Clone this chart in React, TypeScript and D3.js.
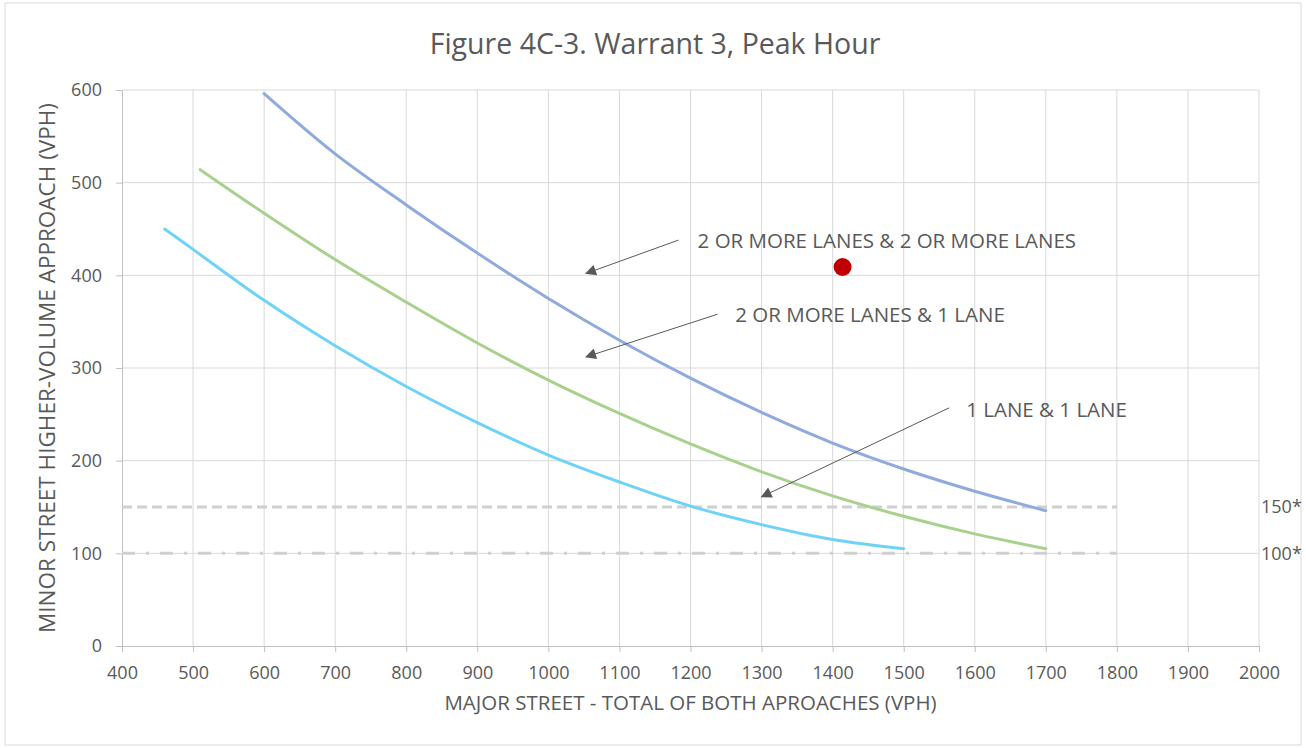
import React, { useEffect, useRef } from 'react';
import * as d3 from 'd3';

// curve readings (major street vph, minor street vph)
const twoAndTwo: Array<[number, number]> = [
  [600, 596], [700, 531], [800, 476], [900, 424], [1000, 375], [1100, 330],
  [1200, 289], [1300, 252], [1400, 219], [1500, 191], [1600, 167], [1700, 146],
];
const twoAndOne: Array<[number, number]> = [
  [510, 514], [600, 467], [700, 417], [800, 371], [900, 327], [1000, 287],
  [1100, 251], [1200, 218], [1300, 188], [1400, 162], [1500, 140], [1600, 121], [1700, 105],
];
const oneAndOne: Array<[number, number]> = [
  [460, 450], [500, 428], [600, 373], [700, 324], [800, 280], [900, 241],
  [1000, 206], [1100, 177], [1200, 151], [1300, 131], [1400, 115], [1500, 105],
];
const studyPoint: [number, number] = [1414, 409];

const xTicks = [400, 500, 600, 700, 800, 900, 1000, 1100, 1200, 1300, 1400, 1500, 1600, 1700, 1800, 1900, 2000];
const yTicks = [0, 100, 200, 300, 400, 500, 600];

const thresholds = [
  { value: 150, label: '150*', dash: '10,5', xEnd: 1800 },
  { value: 100, label: '100*', dash: '13,11,3,11', xEnd: 1800 },
];

// label text position, arrow start, arrow end (data coords)
const notes = [
  { text: '2 OR MORE LANES & 2 OR MORE LANES', at: [1210, 437], from: [1183, 438], to: [1053, 402] },
  { text: '2 OR MORE LANES & 1 LANE', at: [1263, 357], from: [1238, 358], to: [1053, 312] },
  { text: '1 LANE & 1 LANE', at: [1588, 255], from: [1564, 257], to: [1300, 161] },
];

const W = 1306;
const H = 748;
const FONT = "'Open Sans', sans-serif";
const TEXT = '#595959';

const App: React.FC = () => {
  const svgRef = useRef<SVGSVGElement>(null);

  useEffect(() => {
    if (!svgRef.current) return;
    const svg = d3.select(svgRef.current);
    svg.selectAll('*').remove();

    const x = d3.scaleLinear().domain([400, 2000]).range([122, 1259]);
    const y = d3.scaleLinear().domain([0, 600]).range([646, 90]);

    svg.append('rect')
      .attr('x', 5).attr('y', 3).attr('width', W - 10).attr('height', H - 6)
      .attr('fill', '#fff').attr('stroke', '#d9d9d9');

    const defs = svg.append('defs');
    defs.append('marker')
      .attr('id', 'arrow')
      .attr('viewBox', '0 0 10 10')
      .attr('refX', 9).attr('refY', 5)
      .attr('markerWidth', 13).attr('markerHeight', 11)
      .attr('markerUnits', 'userSpaceOnUse')
      .attr('orient', 'auto')
      .append('path')
      .attr('d', 'M0,0 L10,5 L0,10 z')
      .attr('fill', '#595959');

    svg.append('text')
      .attr('x', 655).attr('y', 54)
      .attr('text-anchor', 'middle')
      .attr('font-family', FONT).attr('font-size', 28.5)
      .attr('fill', TEXT)
      .text('Figure 4C-3. Warrant 3, Peak Hour');

    // grid
    const grid = svg.append('g');
    grid.selectAll('line.vx')
      .data(xTicks.slice(1))
      .join('line')
      .attr('x1', d => x(d)).attr('x2', d => x(d))
      .attr('y1', y(600)).attr('y2', y(0))
      .attr('stroke', '#d9d9d9');
    grid.selectAll('line.hy')
      .data(yTicks.slice(1))
      .join('line')
      .attr('x1', x(400)).attr('x2', x(2000))
      .attr('y1', d => y(d)).attr('y2', d => y(d))
      .attr('stroke', '#d9d9d9');

    // axes
    const fmt = d3.format('d');
    const xAxis = svg.append('g')
      .attr('transform', `translate(0,${y(0)})`)
      .call(d3.axisBottom(x).tickValues(xTicks).tickFormat(fmt).tickSize(6).tickSizeOuter(0).tickPadding(14));
    const yAxis = svg.append('g')
      .attr('transform', `translate(${x(400)},0)`)
      .call(d3.axisLeft(y).tickValues(yTicks).tickFormat(fmt).tickSize(6).tickSizeOuter(0).tickPadding(14));
    [xAxis, yAxis].forEach(ax => {
      ax.select('.domain').attr('stroke', '#bfbfbf');
      ax.selectAll('.tick line').attr('stroke', '#bfbfbf');
      ax.selectAll('.tick text')
        .attr('font-family', FONT).attr('font-size', 18).attr('fill', TEXT);
    });

    svg.append('text')
      .attr('x', (x(400) + x(2000)) / 2).attr('y', 710)
      .attr('text-anchor', 'middle')
      .attr('font-family', FONT).attr('font-size', 20.5)
      .attr('fill', TEXT)
      .text('MAJOR STREET - TOTAL OF BOTH APROACHES (VPH)');

    svg.append('text')
      .attr('transform', `translate(55,${(y(0) + y(600)) / 2}) rotate(-90)`)
      .attr('text-anchor', 'middle')
      .attr('font-family', FONT).attr('font-size', 22.5)
      .attr('fill', TEXT)
      .text('MINOR STREET HIGHER-VOLUME APPROACH (VPH)');

    // threshold lines
    thresholds.forEach(t => {
      svg.append('line')
        .attr('x1', x(400)).attr('x2', x(t.xEnd))
        .attr('y1', y(t.value)).attr('y2', y(t.value))
        .attr('stroke', '#d0d0d0').attr('stroke-width', 3)
        .attr('stroke-dasharray', t.dash);
      svg.append('text')
        .attr('x', x(2000) + 2).attr('y', y(t.value))
        .attr('dy', '0.35em')
        .attr('font-family', FONT).attr('font-size', 18)
        .attr('fill', TEXT)
        .text(t.label);
    });

    const line = d3.line<[number, number]>()
      .x(d => x(d[0]))
      .y(d => y(d[1]))
      .curve(d3.curveCatmullRom.alpha(0.5));

    const series: Array<[Array<[number, number]>, string]> = [
      [twoAndTwo, '#8faadc'],
      [twoAndOne, '#a9d18e'],
      [oneAndOne, '#6fd3f7'],
    ];
    series.forEach(([data, color]) => {
      svg.append('path')
        .datum(data)
        .attr('fill', 'none')
        .attr('stroke', color)
        .attr('stroke-width', 3)
        .attr('stroke-linecap', 'round')
        .attr('d', line);
    });

    svg.append('circle')
      .attr('cx', x(studyPoint[0])).attr('cy', y(studyPoint[1]))
      .attr('r', 9)
      .attr('fill', '#c00000');

    notes.forEach(n => {
      svg.append('line')
        .attr('x1', x(n.from[0])).attr('y1', y(n.from[1]))
        .attr('x2', x(n.to[0])).attr('y2', y(n.to[1]))
        .attr('stroke', '#595959').attr('stroke-width', 1)
        .attr('marker-end', 'url(#arrow)');
      svg.append('text')
        .attr('x', x(n.at[0])).attr('y', y(n.at[1]))
        .attr('dy', '0.35em')
        .attr('font-family', FONT).attr('font-size', 20.5)
        .attr('fill', TEXT)
        .text(n.text);
    });
  }, []);

  return (
    <svg
      ref={svgRef}
      width={W}
      height={H}
      style={{ position: 'absolute', left: 0, top: 0, background: '#fff' }}
    />
  );
};

export default App;
